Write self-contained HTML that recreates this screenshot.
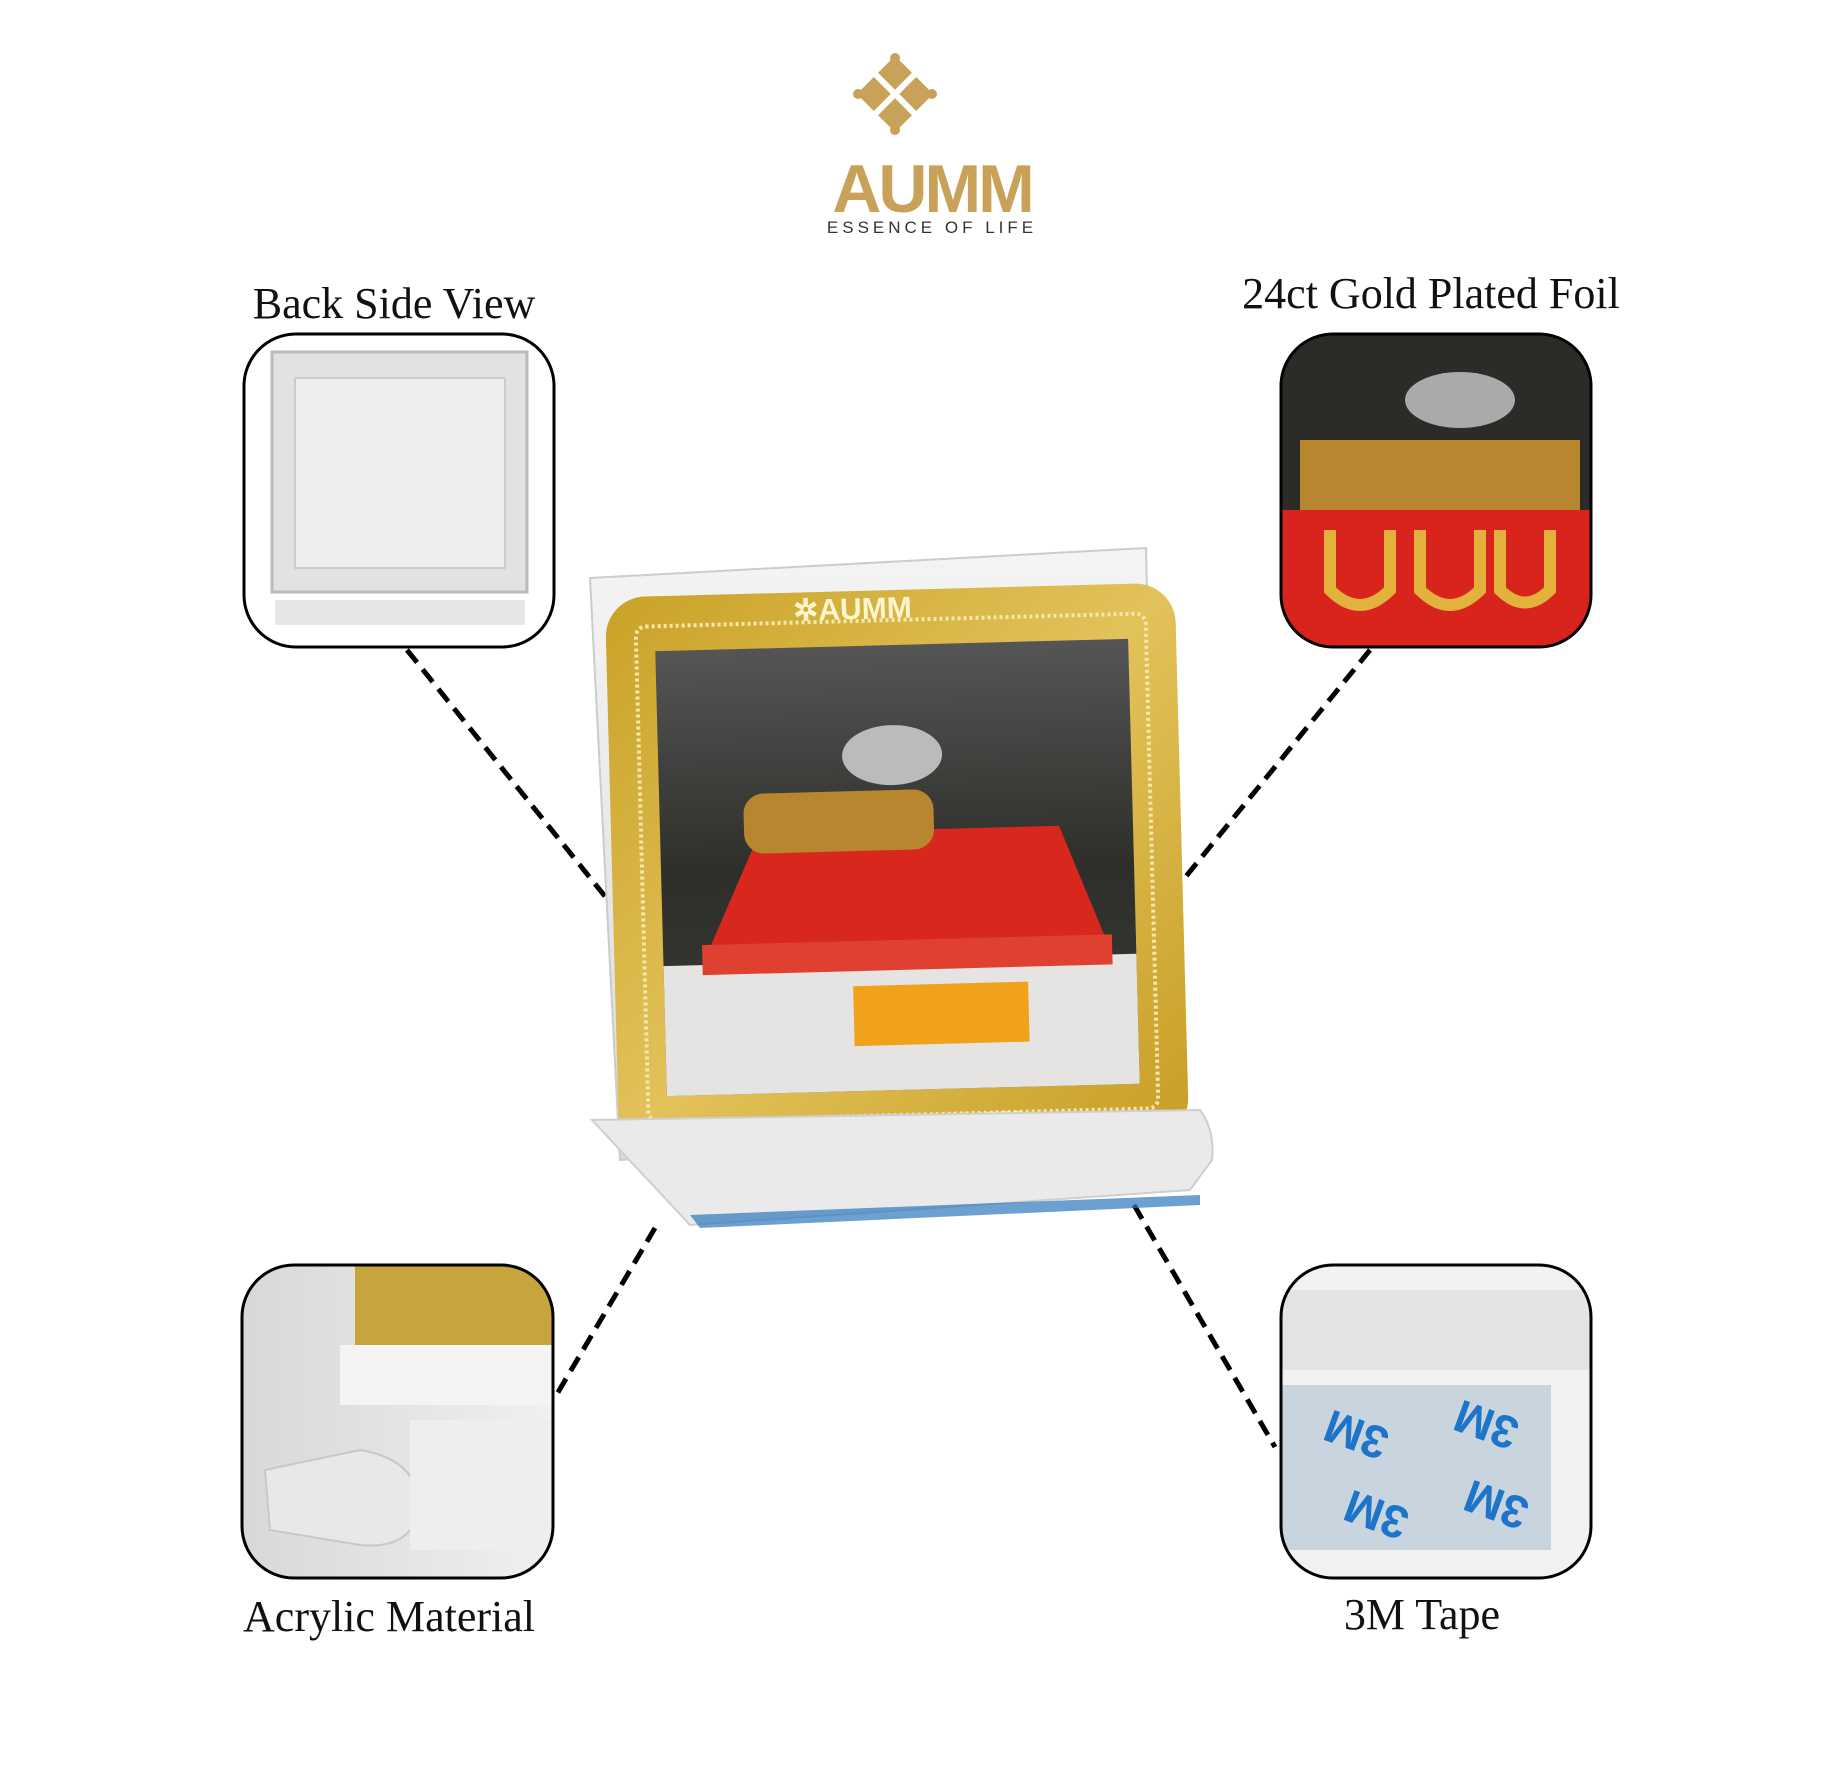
<!DOCTYPE html>
<html><head><meta charset="utf-8"><style>
html,body{margin:0;padding:0;background:#fff;}
body{width:1843px;height:1772px;position:relative;overflow:hidden;font-family:"Liberation Serif",serif;}
.lbl{position:absolute;font-size:44px;color:#111;white-space:nowrap;transform:translateX(-50%);}
</style></head><body>
<svg width="1843" height="1772" style="position:absolute;left:0;top:0">
<defs>
<linearGradient id="gold" x1="0" y1="0" x2="1" y2="1"><stop offset="0" stop-color="#c9a227"/><stop offset="0.5" stop-color="#e2c25a"/><stop offset="1" stop-color="#c79e25"/></linearGradient>
<linearGradient id="cave" x1="0" y1="0" x2="0" y2="1"><stop offset="0" stop-color="#555"/><stop offset="0.5" stop-color="#2e2e2a"/><stop offset="1" stop-color="#3a3a36"/></linearGradient>
<linearGradient id="acr" x1="0" y1="0" x2="0" y2="1"><stop offset="0" stop-color="#f4f4f4"/><stop offset="1" stop-color="#dcdcdc"/></linearGradient>
<linearGradient id="gray" x1="0" y1="0" x2="1" y2="0"><stop offset="0" stop-color="#d8d8d8"/><stop offset="1" stop-color="#f0f0f0"/></linearGradient>
<clipPath id="c1"><rect x="244" y="334" width="310" height="313" rx="52"/></clipPath>
<clipPath id="c2"><rect x="1281" y="334" width="310" height="313" rx="52"/></clipPath>
<clipPath id="c3"><rect x="242" y="1265" width="311" height="313" rx="52"/></clipPath>
<clipPath id="c4"><rect x="1281" y="1265" width="310" height="313" rx="52"/></clipPath>
</defs>
<!-- logo -->
<g fill="#c9a25a">
<g transform="rotate(45 895 94)">
<rect x="868" y="67" width="24" height="24"/><rect x="898" y="67" width="24" height="24"/>
<rect x="868" y="97" width="24" height="24"/><rect x="898" y="97" width="24" height="24"/>
</g>
<circle cx="895" cy="58" r="5"/><circle cx="895" cy="130" r="5"/>
<circle cx="858" cy="94" r="5"/><circle cx="932" cy="94" r="5"/>
</g>
<text x="932" y="212" text-anchor="middle" font-family="Liberation Sans,sans-serif" font-weight="bold" font-size="68" fill="#c9a25a" letter-spacing="-3">AUMM</text>
<text x="932" y="233" text-anchor="middle" font-family="Liberation Sans,sans-serif" font-size="17" fill="#333" letter-spacing="4">ESSENCE OF LIFE</text>
<!-- dashed -->
<g stroke="#000" stroke-width="5" stroke-dasharray="16,9">
<line x1="407" y1="650" x2="620" y2="915"/>
<line x1="1370" y1="650" x2="1157" y2="912"/>
<line x1="655" y1="1228" x2="557" y2="1394"/>
<line x1="1134" y1="1205" x2="1275" y2="1447"/>
</g>
<!-- product -->
<polygon points="590,578 1146,548 1160,1130 620,1160" fill="url(#acr)" stroke="#ccc" stroke-width="2"/>
<rect x="612" y="590" width="570" height="555" rx="40" fill="url(#gold)" transform="rotate(-1.5 897 867)"/>
<rect x="642" y="620" width="510" height="495" rx="10" fill="none" stroke="#f6e7a8" stroke-width="4" stroke-dasharray="3,3" transform="rotate(-1.5 897 867)"/>
<g transform="rotate(-1.5 897 867)">
<rect x="661" y="645" width="473" height="445" fill="url(#cave)"/>
<rect x="661" y="960" width="473" height="130" fill="#e6e4e2"/>
<polygon points="700,960 760,830 1060,830 1110,960" fill="#d8281e"/>
<rect x="700" y="940" width="410" height="30" fill="#e04030"/>
<ellipse cx="895" cy="755" rx="50" ry="30" fill="#bbb"/>
<rect x="745" y="790" width="190" height="60" rx="20" fill="#b8862f"/>
<rect x="850" y="985" width="175" height="60" fill="#f0a21a"/>
<text x="800" y="618" font-family="Liberation Sans,sans-serif" font-weight="bold" font-size="30" fill="#fff6d0">✲AUMM</text>
<text x="818" y="1128" font-family="Liberation Sans,sans-serif" font-weight="bold" font-size="20" fill="#fff6d0">24 Ct. GOLD PLATED</text>
</g>
<path d="M592,1120 L1200,1110 Q1215,1130 1212,1160 L1190,1190 L690,1225 Z" fill="#eaeaea" stroke="#cfcfcf" stroke-width="2"/>
<path d="M690,1215 L1200,1195 L1200,1205 L700,1228 Z" fill="#2d78bd" opacity="0.7"/>
<!-- boxes -->
<g clip-path="url(#c1)"><rect x="244" y="334" width="310" height="313" fill="#fff"/>
<rect x="272" y="352" width="255" height="240" fill="#e2e2e2" stroke="#bbb" stroke-width="3"/>
<rect x="295" y="378" width="210" height="190" fill="#eee" stroke="#ccc" stroke-width="2"/>
<rect x="275" y="600" width="250" height="25" fill="#e6e6e6"/></g>
<g clip-path="url(#c2)"><rect x="1281" y="334" width="310" height="313" fill="#2b2b27"/>
<ellipse cx="1460" cy="400" rx="55" ry="28" fill="#aaa"/>
<rect x="1300" y="440" width="280" height="70" fill="#b8862f"/>
<rect x="1281" y="510" width="310" height="137" fill="#d8241c"/>
<path d="M1330,530 v60 q30,30 60,0 v-60 M1420,530 v60 q30,30 60,0 v-60 M1500,530 v60 q25,25 50,0 v-60" stroke="#e3b23c" stroke-width="12" fill="none"/></g>
<g clip-path="url(#c3)"><rect x="242" y="1265" width="311" height="313" fill="url(#gray)"/>
<rect x="355" y="1265" width="200" height="80" fill="#c7a43c"/>
<rect x="340" y="1345" width="213" height="60" fill="#f4f4f4"/>
<path d="M265,1470 L360,1450 Q420,1460 420,1510 Q410,1550 360,1545 L270,1530 Z" fill="#e8e8e8" stroke="#c8c8c8" stroke-width="2"/>
<rect x="410" y="1420" width="143" height="130" fill="#eeeeee"/></g>
<g clip-path="url(#c4)"><rect x="1281" y="1265" width="310" height="313" fill="#f1f1f1"/>
<rect x="1281" y="1290" width="310" height="80" fill="#e4e4e4"/>
<rect x="1281" y="1385" width="270" height="165" fill="#c9d5de"/>
<g fill="#1e74c8" font-family="Liberation Sans,sans-serif" font-weight="bold" font-size="46">
<text x="1330" y="1440" transform="rotate(200 1360 1430)">3M</text>
<text x="1460" y="1430" transform="rotate(200 1490 1420)">3M</text>
<text x="1350" y="1520" transform="rotate(200 1380 1510)">3M</text>
<text x="1470" y="1510" transform="rotate(200 1500 1500)">3M</text></g></g>
<g fill="none" stroke="#000" stroke-width="3">
<rect x="244" y="334" width="310" height="313" rx="52"/>
<rect x="1281" y="334" width="310" height="313" rx="52"/>
<rect x="242" y="1265" width="311" height="313" rx="52"/>
<rect x="1281" y="1265" width="310" height="313" rx="52"/>
</g>
</svg>
<div class="lbl" style="left:394px;top:278px">Back Side View</div>
<div class="lbl" style="left:1431px;top:268px">24ct Gold Plated Foil</div>
<div class="lbl" style="left:389px;top:1591px">Acrylic Material</div>
<div class="lbl" style="left:1422px;top:1589px">3M Tape</div>
</body></html>
